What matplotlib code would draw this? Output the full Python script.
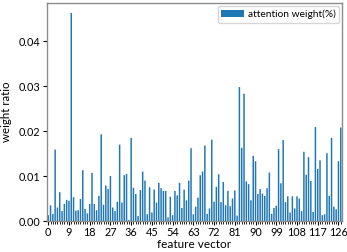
import numpy as np
import matplotlib
matplotlib.use('Agg')
import matplotlib.pyplot as plt
from matplotlib.ticker import MultipleLocator

# attention weight per feature vector index
weights = [
    0.0013, 0.0035, 0.0016, 0.0159, 0.0030, 0.0064, 0.0022, 0.0038,
    0.0047, 0.0045, 0.0463, 0.0053, 0.0023, 0.0024, 0.0049, 0.0113,
    0.0027, 0.0017, 0.0038, 0.0107, 0.0038, 0.0024, 0.0056, 0.0193,
    0.0036, 0.0079, 0.0071, 0.0100, 0.0030, 0.0022, 0.0043, 0.0170,
    0.0041, 0.0102, 0.0105, 0.0002, 0.0185, 0.0074, 0.0060, 0.0011,
    0.0069, 0.0110, 0.0090, 0.0015, 0.0075, 0.0019, 0.0070, 0.0041,
    0.0085, 0.0073, 0.0067, 0.0067, 0.0008, 0.0054, 0.0013, 0.0067,
    0.0057, 0.0085, 0.0029, 0.0070, 0.0046, 0.0090, 0.0162, 0.0015,
    0.0032, 0.0052, 0.0102, 0.0110, 0.0168, 0.0016, 0.0028, 0.0181,
    0.0043, 0.0076, 0.0104, 0.0042, 0.0087, 0.0035, 0.0067, 0.0033,
    0.0050, 0.0068, 0.0012, 0.0298, 0.0163, 0.0283, 0.0088, 0.0082,
    0.0046, 0.0145, 0.0133, 0.0060, 0.0071, 0.0061, 0.0056, 0.0073,
    0.0108, 0.0016, 0.0029, 0.0034, 0.0160, 0.0084, 0.0180, 0.0042,
    0.0055, 0.0019, 0.0055, 0.0028, 0.0055, 0.0050, 0.0022, 0.0154,
    0.0103, 0.0142, 0.0089, 0.0020, 0.0209, 0.0116, 0.0135, 0.0013,
    0.0015, 0.0151, 0.0056, 0.0185, 0.0032, 0.0026, 0.0133, 0.0208,
]
features = np.arange(len(weights))

plt.rcParams['font.family'] = ['Lato', 'DejaVu Sans']

fig = plt.figure(figsize=(3.47, 2.52), dpi=100)
ax = fig.add_axes([0.135, 0.123, 0.851, 0.865])

ax.bar(features, weights, width=0.65, color='#1f77b4', linewidth=0,
       snap=False, label='attention weight(%)')

ax.set_xlim(-0.6, 127.6)
ax.set_ylim(0, 0.0485)
ax.xaxis.set_major_locator(MultipleLocator(9))
ax.xaxis.set_minor_locator(MultipleLocator(1))
ax.set_yticks([0.0, 0.01, 0.02, 0.03, 0.04])
ax.tick_params(axis='both', which='major', labelsize=7.8, length=3, pad=1.5)
ax.tick_params(axis='x', which='minor', length=2)

for s in ax.spines.values():
    s.set_color('#8c8c8c')
    s.set_linewidth(1.0)

ax.set_xlabel('feature vector', fontsize=8.5, labelpad=0.5)
ax.set_ylabel('weight ratio', fontsize=8.3, labelpad=5)

ax.legend(loc='upper right', fontsize=7.3, handlelength=2.2, handleheight=0.7,
          borderpad=0.35, handletextpad=0.4, borderaxespad=0.3, fancybox=True)

fig.savefig('out.png', dpi=100)
